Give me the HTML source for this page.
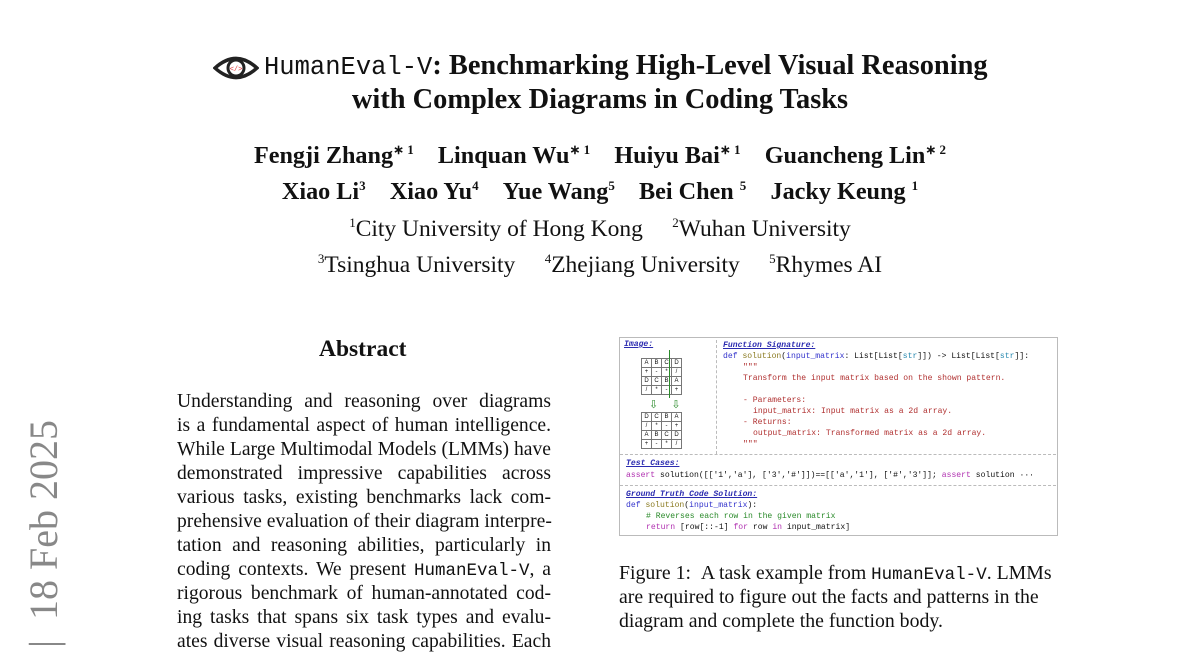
<!DOCTYPE html>
<html><head><meta charset="utf-8"><style>
body{margin:0;width:1200px;height:648px;background:#fff;position:relative;overflow:hidden;font-family:"Liberation Serif",serif;color:#111}
.a{position:absolute;white-space:nowrap}
.c{left:0;width:1200px;text-align:center}
.t{font-weight:bold;font-size:28.4px}
.au{font-weight:bold;font-size:24.2px}
.af{font-size:23.5px}
.m{font-family:"Liberation Mono",monospace}
.ab{position:absolute;left:177px;width:374px;font-size:19.6px;text-align:justify;text-align-last:justify;white-space:nowrap;line-height:24px}
.cap{position:absolute;left:619px;font-size:19.8px;white-space:nowrap}
.f{position:absolute;font-family:"Liberation Mono",monospace;font-size:8.1px;white-space:nowrap}
.h{color:#2b2bb0;font-weight:bold;font-style:italic;text-decoration:underline}
.k{color:#3333cc}.r{color:#b03030}.g{color:#2a8a2a}.p{color:#b030b0}.o{color:#8a7a20}.b{color:#2a8ab0}
table{border-collapse:collapse;position:absolute}
td{border:1px solid #777;width:9px;height:8px;font-size:6px;text-align:center;font-family:"Liberation Sans",sans-serif;padding:0;line-height:8px}
sup{font-size:13px}
</style></head><body>
<svg class="a" style="left:213px;top:55px" width="46" height="26" viewBox="0 0 46 26"><path d="M2 13 Q23 -6 44 13 Q23 32 2 13Z" fill="none" stroke="#222" stroke-width="3.5"/><circle cx="23" cy="13" r="8" fill="none" stroke="#222" stroke-width="3"/><text x="23" y="16" font-size="7" text-anchor="middle" fill="#d33" font-family="Liberation Mono">&lt;/&gt;</text></svg>
<div class="a t" style="left:264px;top:50px"><span class="m" style="font-weight:normal;font-size:25.5px">HumanEval-V</span>: Benchmarking High-Level Visual Reasoning</div>
<div class="a t c" style="top:84px">with Complex Diagrams in Coding Tasks</div>
<div class="a au c" style="top:142px">Fengji Zhang<sup>∗ 1</sup>&nbsp;&nbsp;&nbsp;&nbsp;Linquan Wu<sup>∗ 1</sup>&nbsp;&nbsp;&nbsp;&nbsp;Huiyu Bai<sup>∗ 1</sup>&nbsp;&nbsp;&nbsp;&nbsp;Guancheng Lin<sup>∗ 2</sup></div>
<div class="a au c" style="top:178px">Xiao Li<sup>3</sup>&nbsp;&nbsp;&nbsp;&nbsp;Xiao Yu<sup>4</sup>&nbsp;&nbsp;&nbsp;&nbsp;Yue Wang<sup>5</sup>&nbsp;&nbsp;&nbsp;&nbsp;Bei Chen <sup>5</sup>&nbsp;&nbsp;&nbsp;&nbsp;Jacky Keung <sup>1</sup></div>
<div class="a af c" style="top:215px"><sup>1</sup>City University of Hong Kong&nbsp;&nbsp;&nbsp;&nbsp;&nbsp;<sup>2</sup>Wuhan University</div>
<div class="a af c" style="top:251px"><sup>3</sup>Tsinghua University&nbsp;&nbsp;&nbsp;&nbsp;&nbsp;<sup>4</sup>Zhejiang University&nbsp;&nbsp;&nbsp;&nbsp;&nbsp;<sup>5</sup>Rhymes AI</div>
<div class="a" style="left:319px;top:336px;font-size:23.5px;font-weight:bold">Abstract</div>
<div class="ab" style="top:390px">Understanding and reasoning over diagrams</div>
<div class="ab" style="top:414px">is a fundamental aspect of human intelligence.</div>
<div class="ab" style="top:438px">While Large Multimodal Models (LMMs) have</div>
<div class="ab" style="top:462px">demonstrated impressive capabilities across</div>
<div class="ab" style="top:486px">various tasks, existing benchmarks lack com-</div>
<div class="ab" style="top:510px">prehensive evaluation of their diagram interpre-</div>
<div class="ab" style="top:534px">tation and reasoning abilities, particularly in</div>
<div class="ab" style="top:558px">coding contexts. We present <span class="m" style="font-size:17.5px">HumanEval-V</span>, a</div>
<div class="ab" style="top:582px">rigorous benchmark of human-annotated cod-</div>
<div class="ab" style="top:606px">ing tasks that spans six task types and evalu-</div>
<div class="ab" style="top:630px">ates diverse visual reasoning capabilities. Each</div>
<div class="a" style="left:20px;top:648px;transform-origin:0 0;transform:rotate(-90deg);font-size:40px;color:#888;font-family:'Liberation Serif',serif">|&nbsp;&nbsp;18 Feb 2025</div>
<div class="a" style="left:619px;top:337px;width:437px;height:197px;border:1px solid #bbb"></div>
<div class="a" style="left:716px;top:340px;height:114px;border-left:1px dashed #bbb"></div>
<div class="a" style="left:620px;top:454px;width:436px;border-top:1px dashed #bbb"></div>
<div class="a" style="left:620px;top:485px;width:436px;border-top:1px dashed #bbb"></div>
<div class="f h" style="left:624px;top:340px">Image:</div>
<table style="left:641px;top:358px"><tr><td>A</td><td>B</td><td>C</td><td>D</td></tr><tr><td>+</td><td>-</td><td>*</td><td>/</td></tr><tr><td>D</td><td>C</td><td>B</td><td>A</td></tr><tr><td>/</td><td>*</td><td>-</td><td>+</td></tr></table>
<div class="a" style="left:669px;top:350px;height:48px;border-left:1.5px solid #2a8a2a"></div>
<div class="f g" style="left:649px;top:398px;font-size:11px">⇩&nbsp;&nbsp;⇩</div>
<table style="left:641px;top:412px"><tr><td>D</td><td>C</td><td>B</td><td>A</td></tr><tr><td>/</td><td>*</td><td>-</td><td>+</td></tr><tr><td>A</td><td>B</td><td>C</td><td>D</td></tr><tr><td>+</td><td>-</td><td>*</td><td>/</td></tr></table>
<div class="f h" style="left:723px;top:341px">Function Signature:</div>
<div class="f" style="left:723px;top:352px"><span class="k">def</span> <span class="o">solution</span>(<span class="k">input_matrix</span>: List[List[<span class="b">str</span>]]) -&gt; List[List[<span class="b">str</span>]]:</div>
<div class="f r" style="left:743px;top:363px">"""</div>
<div class="f r" style="left:743px;top:374px">Transform the input matrix based on the shown pattern.</div>
<div class="f r" style="left:743px;top:396px">- Parameters:</div>
<div class="f r" style="left:753px;top:407px">input_matrix: Input matrix as a 2d array.</div>
<div class="f r" style="left:743px;top:418px">- Returns:</div>
<div class="f r" style="left:753px;top:429px">output_matrix: Transformed matrix as a 2d array.</div>
<div class="f r" style="left:743px;top:440px">"""</div>
<div class="f h" style="left:626px;top:459px">Test Cases:</div>
<div class="f" style="left:626px;top:471px"><span class="p">assert</span> solution([['1','a'], ['3','#']])==[['a','1'], ['#','3']]; <span class="p">assert</span> solution ···</div>
<div class="f h" style="left:626px;top:490px">Ground Truth Code Solution:</div>
<div class="f" style="left:626px;top:501px"><span class="k">def</span> <span class="o">solution</span>(<span class="k">input_matrix</span>):</div>
<div class="f g" style="left:646px;top:512px"># Reverses each row in the given matrix</div>
<div class="f" style="left:646px;top:523px"><span class="p">return</span> [row[::-1] <span class="p">for</span> row <span class="p">in</span> input_matrix]</div>
<div class="cap" style="top:562px">Figure 1: &nbsp;A task example from <span class="m" style="font-size:17.5px">HumanEval-V</span>. LMMs</div>
<div class="cap" style="top:586px">are required to figure out the facts and patterns in the</div>
<div class="cap" style="top:610px">diagram and complete the function body.</div>
</body></html>
